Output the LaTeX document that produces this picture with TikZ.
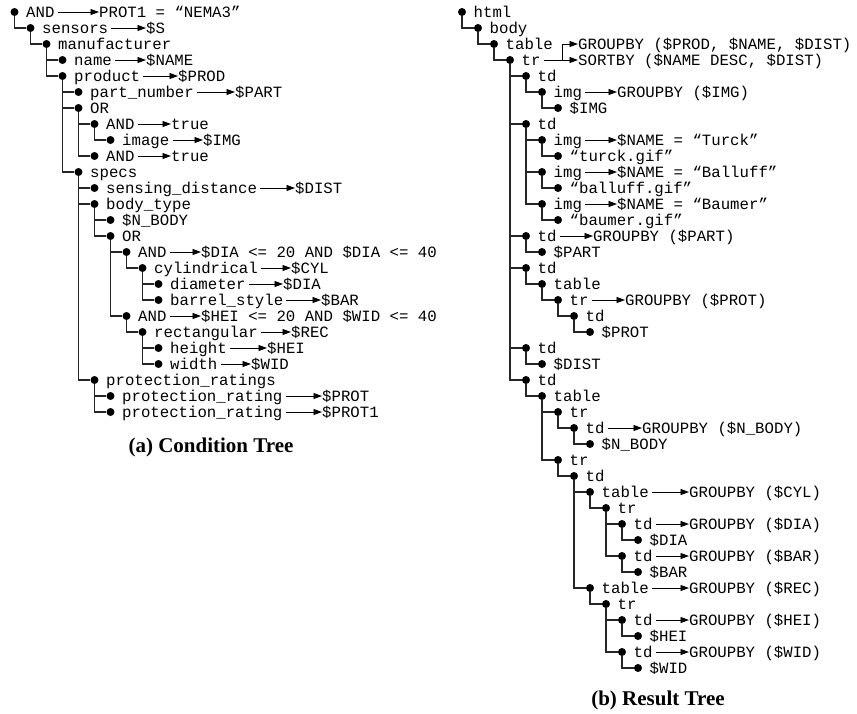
\documentclass[tikz,border=0pt]{standalone}
\usepackage{fontspec}
\setmainfont{Liberation Serif}
\setmonofont{Liberation Mono}
\usetikzlibrary{arrows.meta}
\newcommand\LN[4]{%
  \node[dotnode] (#1) at ({14.5+16*#2},{12+16*(#3-1)}) {};
  \node[txt] (#1t) at ([xshift=11.5pt]#1.center) {#4};}
\newcommand\RN[4]{%
  \node[dotnode] (#1) at ({462+16*#2},{12+16*(#3-1)}) {};
  \node[txt] (#1t) at ([xshift=11.5pt]#1.center) {#4};}
\newcommand\LB[4]{%
  \node[txt] (#1l) at (#3,{12+16*(#2-1)}) {#4};
  \draw[arr] (#1t) -- (#1l);}
\tikzset{
  dotnode/.style={circle,fill=black,inner sep=0pt,minimum size=8pt},
  txt/.style={anchor=west,inner sep=0pt,text height=10.4pt,text depth=0pt,
    font=\ttfamily\fontsize{15.7}{16}\selectfont},
  treeline/.style={draw=black!85,line width=1.5pt},
  arr/.style={draw=black,line width=0.9pt,shorten <=3pt,-{Triangle[length=8.5pt,width=6pt]}},
  captxt/.style={font=\rmfamily\bfseries\fontsize{21}{24}\selectfont,anchor=base,inner sep=0pt}
}
\begin{document}
\begin{tikzpicture}[x=1pt,y=-1pt]
\useasboundingbox (0,0) rectangle (857,713);
% ---------- (a) condition tree ----------
\LN{a1}{0}{1}{AND}
\LN{a2}{1}{2}{sensors}
\LN{a3}{2}{3}{manufacturer}
\LN{a4}{3}{4}{name}
\LN{a5}{3}{5}{product}
\LN{a6}{4}{6}{part\_number}
\LN{a7}{4}{7}{OR}
\LN{a8}{5}{8}{AND}
\LN{a9}{6}{9}{image}
\LN{a10}{5}{10}{AND}
\LN{a11}{4}{11}{specs}
\LN{a12}{5}{12}{sensing\_distance}
\LN{a13}{5}{13}{body\_type}
\LN{a14}{6}{14}{\$N\_BODY}
\LN{a15}{6}{15}{OR}
\LN{a16}{7}{16}{AND}
\LN{a17}{8}{17}{cylindrical}
\LN{a18}{9}{18}{diameter}
\LN{a19}{9}{19}{barrel\_style}
\LN{a20}{7}{20}{AND}
\LN{a21}{8}{21}{rectangular}
\LN{a22}{9}{22}{height}
\LN{a23}{9}{23}{width}
\LN{a24}{5}{24}{protection\_ratings}
\LN{a25}{6}{25}{protection\_rating}
\LN{a26}{6}{26}{protection\_rating}
\foreach \p/\c in {a1/a2,a2/a3,a3/a4,a3/a5,a5/a6,a5/a7,a7/a8,a8/a9,a7/a10,a5/a11,
  a11/a12,a11/a13,a13/a14,a13/a15,a15/a16,a16/a17,a17/a18,a17/a19,a15/a20,a20/a21,
  a21/a22,a21/a23,a11/a24,a24/a25,a24/a26}
  \draw[treeline] (\p) |- (\c);
\LB{a1}{1}{99}{PROT1 = “NEMA3”}
\LB{a2}{2}{146}{\$S}
\LB{a4}{4}{146}{\$NAME}
\LB{a5}{5}{178}{\$PROD}
\LB{a6}{6}{235}{\$PART}
\LB{a8}{8}{171}{true}
\LB{a9}{9}{203}{\$IMG}
\LB{a10}{10}{171}{true}
\LB{a12}{12}{295}{\$DIST}
\LB{a16}{16}{201}{\$DIA <= 20 AND \$DIA <= 40}
\LB{a17}{17}{291}{\$CYL}
\LB{a18}{18}{283}{\$DIA}
\LB{a19}{19}{321}{\$BAR}
\LB{a20}{20}{201}{\$HEI <= 20 AND \$WID <= 40}
\LB{a21}{21}{291}{\$REC}
\LB{a22}{22}{267}{\$HEI}
\LB{a23}{23}{251}{\$WID}
\LB{a25}{25}{322}{\$PROT}
\LB{a26}{26}{322}{\$PROT1}
\node[captxt] (capa) at (211,452) {(a) Condition Tree};
% ---------- (b) result tree ----------
\RN{b1}{0}{1}{html}
\RN{b2}{1}{2}{body}
\RN{b3}{2}{3}{table}
\RN{b4}{3}{4}{tr}
\RN{b5}{4}{5}{td}
\RN{b6}{5}{6}{img}
\RN{b7}{6}{7}{\$IMG}
\RN{b8}{4}{8}{td}
\RN{b9}{5}{9}{img}
\RN{b10}{6}{10}{“turck.gif”}
\RN{b11}{5}{11}{img}
\RN{b12}{6}{12}{“balluff.gif”}
\RN{b13}{5}{13}{img}
\RN{b14}{6}{14}{“baumer.gif”}
\RN{b15}{4}{15}{td}
\RN{b16}{5}{16}{\$PART}
\RN{b17}{4}{17}{td}
\RN{b18}{5}{18}{table}
\RN{b19}{6}{19}{tr}
\RN{b20}{7}{20}{td}
\RN{b21}{8}{21}{\$PROT}
\RN{b22}{4}{22}{td}
\RN{b23}{5}{23}{\$DIST}
\RN{b24}{4}{24}{td}
\RN{b25}{5}{25}{table}
\RN{b26}{6}{26}{tr}
\RN{b27}{7}{27}{td}
\RN{b28}{8}{28}{\$N\_BODY}
\RN{b29}{6}{29}{tr}
\RN{b30}{7}{30}{td}
\RN{b31}{8}{31}{table}
\RN{b32}{9}{32}{tr}
\RN{b33}{10}{33}{td}
\RN{b34}{11}{34}{\$DIA}
\RN{b35}{10}{35}{td}
\RN{b36}{11}{36}{\$BAR}
\RN{b37}{8}{37}{table}
\RN{b38}{9}{38}{tr}
\RN{b39}{10}{39}{td}
\RN{b40}{11}{40}{\$HEI}
\RN{b41}{10}{41}{td}
\RN{b42}{11}{42}{\$WID}
\foreach \p/\c in {b1/b2,b2/b3,b3/b4,b4/b5,b5/b6,b6/b7,b4/b8,b8/b9,b9/b10,b8/b11,
  b11/b12,b8/b13,b13/b14,b4/b15,b15/b16,b4/b17,b17/b18,b18/b19,b19/b20,b20/b21,
  b4/b22,b22/b23,b4/b24,b24/b25,b25/b26,b26/b27,b27/b28,b25/b29,b29/b30,b30/b31,
  b31/b32,b32/b33,b33/b34,b32/b35,b35/b36,b30/b37,b37/b38,b38/b39,b39/b40,b38/b41,b41/b42}
  \draw[treeline] (\p) |- (\c);
% fork from tr
\node[txt] (b3l) at (578,44) {GROUPBY (\$PROD, \$NAME, \$DIST)};
\LB{b4}{4}{578}{SORTBY (\$NAME DESC, \$DIST)}
\coordinate (fk) at (562,60);
\draw[arr,shorten <=0pt] (fk) |- (b3l);
\LB{b6}{6}{617}{GROUPBY (\$IMG)}
\LB{b9}{9}{617}{\$NAME = “Turck”}
\LB{b11}{11}{617}{\$NAME = “Balluff”}
\LB{b13}{13}{617}{\$NAME = “Baumer”}
\LB{b15}{15}{593}{GROUPBY (\$PART)}
\LB{b19}{19}{625}{GROUPBY (\$PROT)}
\LB{b27}{27}{642}{GROUPBY (\$N\_BODY)}
\LB{b31}{31}{689}{GROUPBY (\$CYL)}
\LB{b33}{33}{689}{GROUPBY (\$DIA)}
\LB{b35}{35}{689}{GROUPBY (\$BAR)}
\LB{b37}{37}{689}{GROUPBY (\$REC)}
\LB{b39}{39}{689}{GROUPBY (\$HEI)}
\LB{b41}{41}{689}{GROUPBY (\$WID)}
\node[captxt] (capb) at (658,705) {(b) Result Tree};
\end{tikzpicture}
\end{document}
